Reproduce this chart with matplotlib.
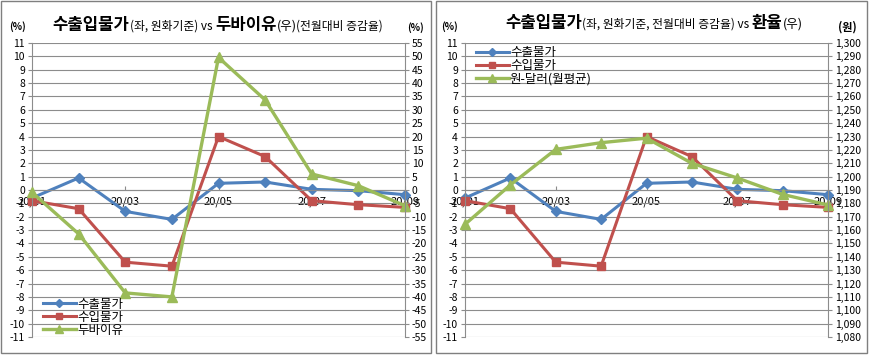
import matplotlib
matplotlib.use('Agg')
import matplotlib.pyplot as plt
from matplotlib.patches import Rectangle
from matplotlib.ticker import FuncFormatter
from matplotlib.offsetbox import TextArea, HPacker, AnchoredOffsetbox

plt.rcParams['font.family'] = ['Noto Sans CJK KR', 'DejaVu Sans']
plt.rcParams['axes.unicode_minus'] = False

# data
months = ['20/01', '20/02', '20/03', '20/04', '20/05', '20/06', '20/07', '20/08', '20/09']
export_price = [-0.6, 0.9, -1.6, -2.2, 0.5, 0.6, 0.05, -0.05, -0.35]
import_price = [-0.8, -1.4, -5.4, -5.7, 4.0, 2.5, -0.8, -1.1, -1.3]
dubai = [-0.9, -16.4, -38.5, -40.0, 49.6, 33.7, 6.0, 1.6, -5.9]
krw_usd = [1164.3, 1193.8, 1220.4, 1225.4, 1228.8, 1210.0, 1199.0, 1186.7, 1178.8]

BLUE = '#4F81BD'
RED = '#C0504D'
GREEN = '#9BBB59'
GRID = '#8c8c8c'

W, H = 869, 356
fig = plt.figure(figsize=(W / 100, H / 100), dpi=100)


def px(x0, y0, x1, y1):
    return [x0 / W, 1 - y1 / H, (x1 - x0) / W, (y1 - y0) / H]


def style_left(ax):
    ax.set_xlim(0, len(months) - 1)
    ax.set_ylim(-11, 11)
    ax.set_yticks(range(-11, 12))
    ax.grid(axis='y', color=GRID, lw=0.8)
    ax.set_axisbelow(True)
    ax.spines['top'].set_visible(False)
    ax.spines['right'].set_visible(False)
    ax.spines['left'].set_color(GRID)
    ax.spines['bottom'].set_position(('data', 0))
    ax.spines['bottom'].set_color(GRID)
    ax.set_xticks(range(0, len(months), 2))
    ax.set_xticklabels(months[::2])
    ax.tick_params(axis='x', direction='in', length=3, color=GRID, labelsize=8, pad=5)
    ax.tick_params(axis='y', length=3, color=GRID, labelsize=7.5, pad=2)


def title(pieces, x, y):
    boxes = [TextArea(t, textprops=dict(fontsize=s, fontweight=w, color='black'))
             for t, s, w in pieces]
    pack = HPacker(children=boxes, align='baseline', pad=0, sep=0)
    ab = AnchoredOffsetbox(loc='center', child=pack, bbox_to_anchor=(x / W, 1 - y / H),
                           bbox_transform=fig.transFigure, frameon=False, pad=0, borderpad=0)
    fig.add_artist(ab)


# panel borders
for x0, x1 in [(1, 431), (436, 867)]:
    fig.add_artist(Rectangle((x0 / W, 1 - 353 / H), (x1 - x0) / W, 352 / H,
                             transform=fig.transFigure, fill=False, ec='#7f7f7f', lw=1))

x = list(range(len(months)))

# ---- left panel: 수출입물가 vs 두바이유
ax = fig.add_axes(px(32, 43, 405, 337))
style_left(ax)
l1, = ax.plot(x, export_price, color=BLUE, lw=2.2, marker='D', ms=5, clip_on=False)
l2, = ax.plot(x, import_price, color=RED, lw=2.2, marker='s', ms=6, clip_on=False)
ax2 = ax.twinx()
ax2.set_ylim(-55, 55)
ax2.set_yticks(range(-55, 56, 5))
for s in ['top', 'bottom', 'left']:
    ax2.spines[s].set_visible(False)
ax2.spines['right'].set_color(GRID)
ax2.tick_params(axis='y', length=3, color=GRID, labelsize=7.5, pad=2)
l3, = ax2.plot(x, dubai, color=GREEN, lw=2.4, marker='^', ms=7, clip_on=False)
ax2.legend([l1, l2, l3], ['수출물가', '수입물가', '두바이유'], loc='lower left',
           bbox_to_anchor=(0.01, -0.025), frameon=False, fontsize=9, handlelength=2.6,
           handletextpad=0.1, labelspacing=0.0, borderaxespad=0.2, markerscale=0.8)

title([('수출입물가', 12, 'bold'), ('(좌, 원화기준) vs ', 8.5, 'normal'),
       ('두바이유', 12, 'bold'), ('(우)', 9, 'normal'), ('(전월대비 증감율)', 8.5, 'normal')],
      218, 25)
fig.text(18 / W, 1 - 27 / H, '(%)', fontsize=7, fontweight='bold', ha='center', va='center')
fig.text(415 / W, 1 - 28 / H, '(%)', fontsize=7, fontweight='bold', ha='center', va='center')

# ---- right panel: 수출입물가 vs 환율
bx = fig.add_axes(px(465, 43, 828, 337))
style_left(bx)
m1, = bx.plot(x, export_price, color=BLUE, lw=2.2, marker='D', ms=5, clip_on=False)
m2, = bx.plot(x, import_price, color=RED, lw=2.2, marker='s', ms=6, clip_on=False)
bx2 = bx.twinx()
bx2.set_ylim(1080, 1300)
bx2.set_yticks(range(1080, 1301, 10))
bx2.yaxis.set_major_formatter(FuncFormatter(lambda v, p: f'{int(v):,}'))
for s in ['top', 'bottom', 'left']:
    bx2.spines[s].set_visible(False)
bx2.spines['right'].set_color(GRID)
bx2.tick_params(axis='y', length=3, color=GRID, labelsize=7.5, pad=2)
m3, = bx2.plot(x, krw_usd, color=GREEN, lw=2.4, marker='^', ms=7, clip_on=False)
bx2.legend([m1, m2, m3], ['수출물가', '수입물가', '원-달러(월평균)'], loc='upper left',
           bbox_to_anchor=(0.01, 1.015), frameon=False, fontsize=9, handlelength=2.6,
           handletextpad=0.1, labelspacing=0.0, borderaxespad=0.2, markerscale=0.8)

title([('수출입물가', 12, 'bold'), ('(좌, 원화기준, 전월대비 증감율) vs ', 8.5, 'normal'),
       ('환율', 12, 'bold'), ('(우)', 9, 'normal')],
      654, 23)
fig.text(449 / W, 1 - 27 / H, '(%)', fontsize=7, fontweight='bold', ha='center', va='center')
fig.text(847 / W, 1 - 27 / H, '(원)', fontsize=8, fontweight='bold', ha='center', va='center')

fig.savefig('out.png', dpi=100)
